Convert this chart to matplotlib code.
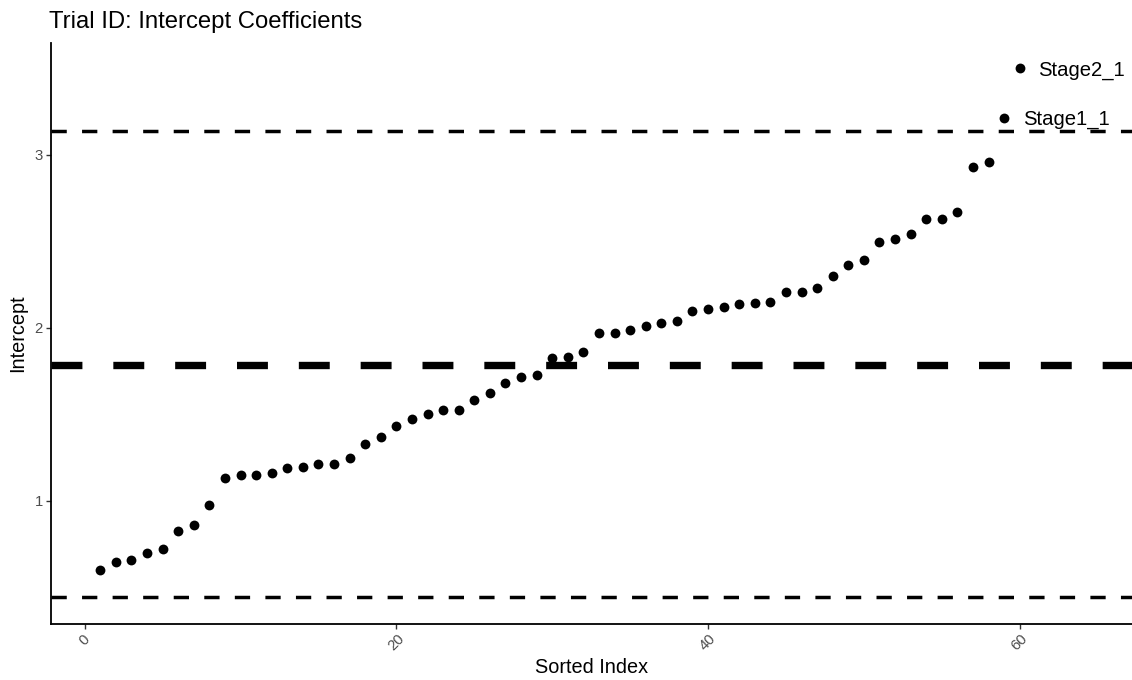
import matplotlib
matplotlib.use("Agg")
import matplotlib.pyplot as plt
import numpy as np

plt.rcParams['font.family'] = ['Liberation Sans', 'DejaVu Sans']

# Data
sorted_index = list(range(1, 61))
intercepts = [
    0.600, 0.648, 0.656, 0.697, 0.718, 0.822, 0.859, 0.977, 1.131, 1.149,
    1.149, 1.160, 1.191, 1.193, 1.214, 1.214, 1.249, 1.329, 1.371, 1.429,
    1.470, 1.499, 1.524, 1.526, 1.580, 1.620, 1.680, 1.713, 1.729, 1.825,
    1.833, 1.862, 1.970, 1.968, 1.986, 2.009, 2.026, 2.036, 2.096, 2.107,
    2.120, 2.135, 2.142, 2.148, 2.206, 2.206, 2.227, 2.299, 2.361, 2.391,
    2.498, 2.515, 2.540, 2.629, 2.629, 2.668, 2.930, 2.958, 3.211, 3.499,
]
label_index = [59, 60]
label_text = ["Stage1_1", "Stage2_1"]
mean_line = 1.784
upper_line = 3.137
lower_line = 0.443

x_ticks = [0, 20, 40, 60]
y_ticks = [1, 2, 3]

fig = plt.figure(figsize=(11.32, 6.8), dpi=100)
ax = fig.add_axes([51 / 1132, 1 - 623.5 / 680, 1080.5 / 1132, (623.5 - 43) / 680])

ax.scatter(sorted_index, intercepts, s=50, color='black', linewidths=0, zorder=3)

ax.axhline(mean_line, color='black', lw=5.3, linestyle=(0, (4.2, 4.2)), zorder=2)
ax.axhline(upper_line, color='black', lw=2.5, linestyle=(0, (4.4, 4.4)), zorder=2)
ax.axhline(lower_line, color='black', lw=2.5, linestyle=(0, (4.4, 4.4)), zorder=2)

for idx, txt in zip(label_index, label_text):
    ax.annotate(txt, xy=(idx, intercepts[idx - 1]), xytext=(13.5, -1.2),
                textcoords='offset points', ha='left', va='center',
                fontsize=14.6, color='black', zorder=4)

ax.set_xlim(-2.16, 67.17)
ax.set_ylim(0.290, 3.646)
ax.set_xticks(x_ticks)
ax.set_yticks(y_ticks)
ax.set_xticklabels([str(t) for t in x_ticks], rotation=45, ha='center',
                   fontsize=10.7, color='#4D4D4D')
ax.set_yticklabels([str(t) for t in y_ticks], fontsize=10.7, color='#4D4D4D')
ax.tick_params(axis='both', length=3.5, width=1.0, color='#333333', pad=2.5)

for side in ['top', 'right']:
    ax.spines[side].set_visible(False)
for side in ['left', 'bottom']:
    ax.spines[side].set_linewidth(1.3)
    ax.spines[side].set_color('black')

ax.set_xlabel('Sorted Index', fontsize=14.3, labelpad=3)
ax.set_ylabel('Intercept', fontsize=14.3, labelpad=5)
ax.set_title('Trial ID: Intercept Coefficients', fontsize=17.2, loc='left', pad=11, x=-0.002)

fig.savefig('out.png', dpi=100, facecolor='white')
